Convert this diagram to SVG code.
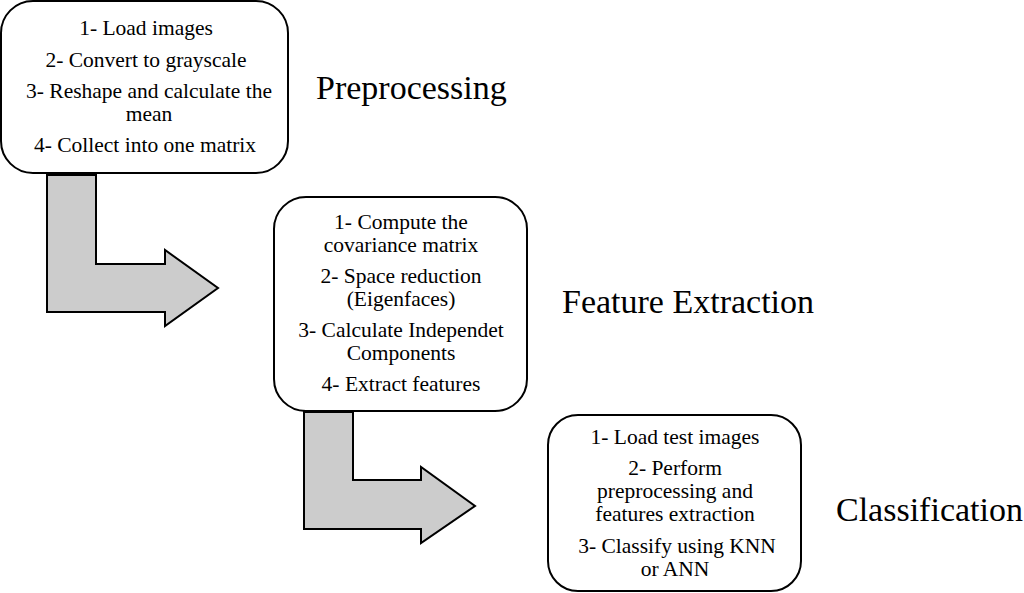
<svg xmlns="http://www.w3.org/2000/svg" width="1024" height="593" viewBox="0 0 1024 593">
<style>
.box{fill:#fff;stroke:#000;stroke-width:2}
.arr{fill:#cccccc;stroke:#000;stroke-width:2;stroke-linejoin:miter}
.t{font-family:"Liberation Serif","Times New Roman",serif;font-size:21.5px;text-anchor:middle;fill:#000}
.lbl{font-family:"Liberation Serif","Times New Roman",serif;font-size:34px;fill:#000}
</style>
<rect width="1024" height="593" fill="#fff"/>
<g id="connectors">
<polygon class="arr" points="47,175 96,175 96,264 165,264 165,250 218,288 165,326 165,312 47,312"/>
<polygon class="arr" points="304,412 353,412 353,480 421,480 421,467 475,506 421,543 421,529 304,529"/>
</g>
<g id="box1">
<rect class="box" x="1" y="1" width="287" height="172" rx="32" ry="32"/>
<text class="t" x="146" y="35">1- Load images</text>
<text class="t" x="146" y="67">2- Convert to grayscale</text>
<text class="t" x="149" y="98">3- Reshape and calculate the</text>
<text class="t" x="149" y="121">mean</text>
<text class="t" x="145" y="152">4- Collect into one matrix</text>
</g>
<g id="box2">
<rect class="box" x="274" y="197" width="253" height="214" rx="32" ry="32"/>
<text class="t" x="401" y="229">1- Compute the</text>
<text class="t" x="401" y="252">covariance matrix</text>
<text class="t" x="401" y="283">2- Space reduction</text>
<text class="t" x="401" y="306">(Eigenfaces)</text>
<text class="t" x="401" y="337">3- Calculate Independet</text>
<text class="t" x="401" y="360">Components</text>
<text class="t" x="401" y="391">4- Extract features</text>
</g>
<g id="box3">
<rect class="box" x="548" y="415" width="253" height="176" rx="30" ry="30"/>
<text class="t" x="675" y="444">1- Load test images</text>
<text class="t" x="675" y="475">2- Perform</text>
<text class="t" x="675" y="498">preprocessing and</text>
<text class="t" x="675" y="521">features extraction</text>
<text class="t" x="677" y="553">3- Classify using KNN</text>
<text class="t" x="675" y="576">or ANN</text>
</g>
<g id="labels">
<text class="lbl" x="316" y="99">Preprocessing</text>
<text class="lbl" x="562" y="313">Feature Extraction</text>
<text class="lbl" x="836" y="521">Classification</text>
</g>
</svg>
